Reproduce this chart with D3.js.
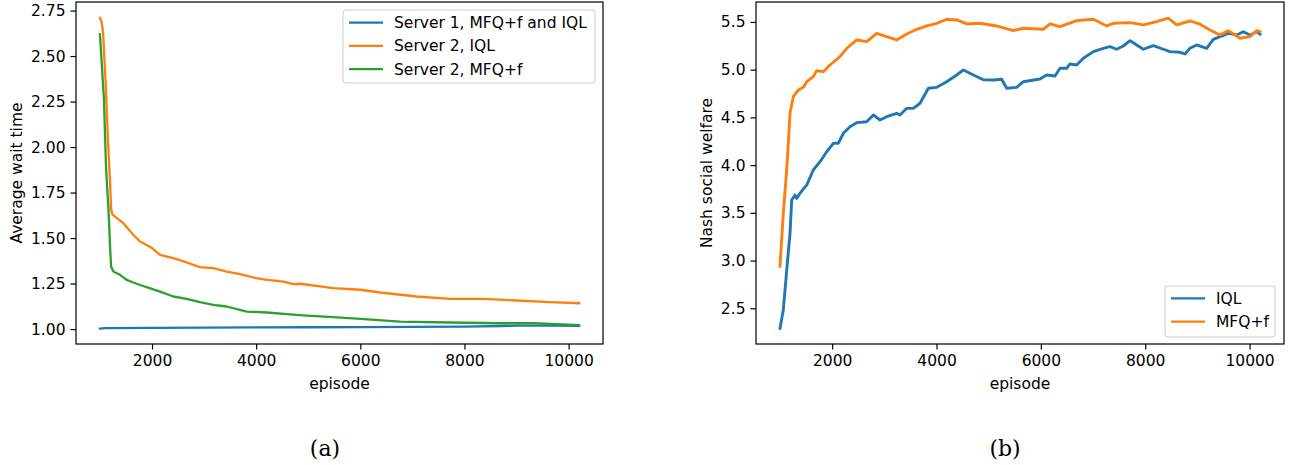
<!DOCTYPE html>
<html>
<head>
<meta charset="utf-8">
<title>wait time / nash welfare</title>
<script src="https://d3js.org/d3.v7.min.js"></script>
<style>
  body { margin: 0; background: #fff; }
  text { font-family: "DejaVu Sans", sans-serif; fill: #000; }
  .cap { font-family: "DejaVu Serif", "Liberation Serif", serif; }
</style>
</head>
<body>
<script>
// ---- data ----
// (a) average wait time
var waitS1Ep   = [1000, 1100, 2000, 3000, 4000, 5000, 6000, 7000, 8000, 8700, 9000, 9600, 10200];
var waitS1Val  = [1.003, 1.005, 1.007, 1.008, 1.009, 1.010, 1.011, 1.012, 1.014, 1.017, 1.019, 1.019, 1.018];

var waitIqlEp  = [1000, 1030, 1060, 1110, 1160, 1195, 1215, 1235, 1289, 1448, 1640, 1769, 2000, 2153, 2409, 2665, 2921, 3177, 3434, 3690, 4000, 4205, 4525, 4717, 4841, 5229, 5479, 6000, 6378, 7082, 7722, 8362, 9002, 9642, 10200];
var waitIqlVal = [2.71, 2.69, 2.63, 2.35, 2.00, 1.80, 1.66, 1.632, 1.618, 1.582, 1.518, 1.481, 1.445, 1.408, 1.390, 1.366, 1.340, 1.335, 1.316, 1.302, 1.280, 1.270, 1.261, 1.247, 1.249, 1.234, 1.225, 1.216, 1.201, 1.179, 1.166, 1.166, 1.157, 1.148, 1.142];

var waitMfqEp  = [1000, 1077, 1116, 1142, 1162, 1194, 1214, 1257, 1385, 1513, 1640, 1896, 2153, 2409, 2665, 2921, 3177, 3434, 3818, 4205, 4589, 4973, 5479, 6000, 6762, 7722, 8682, 9322, 10200];
var waitMfqVal = [2.62, 2.26, 1.893, 1.76, 1.673, 1.454, 1.344, 1.316, 1.298, 1.270, 1.256, 1.230, 1.206, 1.179, 1.166, 1.148, 1.133, 1.124, 1.096, 1.091, 1.082, 1.074, 1.066, 1.056, 1.041, 1.036, 1.032, 1.032, 1.022];

// (b) Nash social welfare
var nswIqlEp  = [1000, 1063, 1096, 1140, 1192, 1224, 1288, 1320, 1383, 1447, 1512, 1638, 1767, 1895, 2022, 2118, 2214, 2342, 2470, 2662, 2789, 2917, 3045, 3237, 3300, 3429, 3557, 3684, 3844, 4004, 4195, 4387, 4515, 4707, 4898, 5089, 5249, 5345, 5536, 5664, 5983, 6111, 6271, 6367, 6494, 6558, 6686, 6814, 7006, 7197, 7325, 7453, 7581, 7709, 7837, 7964, 8156, 8348, 8475, 8667, 8763, 8858, 8986, 9178, 9305, 9433, 9593, 9753, 9881, 10008, 10136, 10200];
var nswIqlVal = [2.29, 2.48, 2.69, 2.97, 3.285, 3.634, 3.687, 3.652, 3.704, 3.75, 3.791, 3.949, 4.036, 4.140, 4.229, 4.229, 4.333, 4.403, 4.445, 4.455, 4.525, 4.473, 4.507, 4.543, 4.525, 4.595, 4.595, 4.648, 4.805, 4.815, 4.874, 4.944, 4.997, 4.944, 4.895, 4.892, 4.899, 4.805, 4.815, 4.874, 4.902, 4.944, 4.934, 5.015, 5.015, 5.060, 5.049, 5.119, 5.189, 5.224, 5.241, 5.214, 5.248, 5.304, 5.259, 5.214, 5.252, 5.214, 5.189, 5.182, 5.165, 5.224, 5.259, 5.224, 5.318, 5.346, 5.381, 5.364, 5.398, 5.364, 5.398, 5.371];

var nswMfqEp  = [1000, 1063, 1128, 1160, 1192, 1255, 1351, 1447, 1512, 1638, 1703, 1830, 1958, 2150, 2278, 2470, 2662, 2853, 3045, 3237, 3429, 3620, 3812, 4004, 4195, 4387, 4579, 4833, 5153, 5472, 5664, 6047, 6175, 6367, 6686, 7006, 7261, 7389, 7709, 7964, 8220, 8443, 8603, 8858, 9050, 9242, 9433, 9593, 9817, 10008, 10136, 10200];
var nswMfqVal = [2.94, 3.495, 3.95, 4.23, 4.543, 4.717, 4.787, 4.815, 4.874, 4.927, 4.990, 4.979, 5.049, 5.136, 5.224, 5.311, 5.294, 5.381, 5.346, 5.311, 5.374, 5.423, 5.458, 5.486, 5.528, 5.521, 5.479, 5.486, 5.458, 5.409, 5.434, 5.423, 5.479, 5.451, 5.514, 5.528, 5.458, 5.486, 5.493, 5.469, 5.503, 5.539, 5.469, 5.510, 5.476, 5.416, 5.364, 5.409, 5.329, 5.346, 5.409, 5.398];

var xTicks = [2000, 4000, 6000, 8000, 10000];
var waitTicks = [1.00, 1.25, 1.50, 1.75, 2.00, 2.25, 2.50, 2.75];
var nswTicks = [2.5, 3.0, 3.5, 4.0, 4.5, 5.0, 5.5];

var C_BLUE = "#1f77b4", C_ORANGE = "#ff7f0e", C_GREEN = "#2ca02c";

function zip(xs, ys) { return xs.map(function(x, i){ return [x, ys[i]]; }); }

var svg = d3.select("body").append("svg")
    .attr("width", 1291).attr("height", 465);

function panel(opt) {
    var x = d3.scaleLinear().domain([540, 10660]).range([opt.left, opt.right]);
    var y = d3.scaleLinear().domain(opt.ydom).range([opt.bottom, opt.top]);
    var g = svg.append("g");

    var line = d3.line().x(function(d){ return x(d[0]); }).y(function(d){ return y(d[1]); });
    opt.series.forEach(function(s){
        g.append("path").datum(s.data)
            .attr("d", line)
            .attr("fill", "none")
            .attr("stroke", s.color)
            .attr("stroke-width", opt.sw)
            .attr("stroke-linejoin", "round")
            .attr("stroke-linecap", "square");
    });

    var xa = g.append("g").attr("transform", "translate(0," + opt.bottom + ")")
        .call(d3.axisBottom(x).tickValues(xTicks).tickFormat(d3.format("d")).tickSize(5.5).tickPadding(5).tickSizeOuter(0));
    var ya = g.append("g").attr("transform", "translate(" + opt.left + ",0)")
        .call(d3.axisLeft(y).tickValues(opt.yticks).tickFormat(d3.format(opt.yfmt)).tickSize(5.5).tickPadding(5).tickSizeOuter(0));
    [xa, ya].forEach(function(a){
        a.select(".domain").remove();
        a.selectAll("line").attr("stroke", "#000").attr("stroke-width", 1.2);
        a.selectAll("text").style("font-size", "15.5px").style("font-family", "DejaVu Sans");
    });

    g.append("rect")
        .attr("x", opt.left).attr("y", opt.top)
        .attr("width", opt.right - opt.left).attr("height", opt.bottom - opt.top)
        .attr("fill", "none").attr("stroke", "#000").attr("stroke-width", 1.2);

    g.append("text").attr("x", (opt.left + opt.right) / 2).attr("y", 388.5)
        .attr("text-anchor", "middle").style("font-size", "15.5px").text("episode");
    g.append("text")
        .attr("transform", "translate(" + opt.ylabX + "," + (opt.top + opt.bottom) / 2 + ") rotate(-90)")
        .attr("text-anchor", "middle").style("font-size", "15.5px").text(opt.ylabel);

    // legend
    var L = opt.legend;
    g.append("rect").attr("x", L.x).attr("y", L.y).attr("width", L.w).attr("height", L.h)
        .attr("rx", 3).attr("fill", "#fff").attr("fill-opacity", 0.8)
        .attr("stroke", "#ccc").attr("stroke-width", 1);
    opt.series.forEach(function(s, i){
        var yy = L.y + L.row0 + i * L.step;
        g.append("line").attr("x1", L.x + 6).attr("x2", L.x + 40).attr("y1", yy).attr("y2", yy)
            .attr("stroke", s.color).attr("stroke-width", 2.3);
        g.append("text").attr("x", L.x + 51).attr("y", yy).attr("dy", "0.36em")
            .style("font-size", "15.5px").text(s.name);
    });

    svg.append("text").attr("class", "cap")
        .attr("x", opt.capX).attr("y", 456).attr("text-anchor", "middle")
        .style("font-size", "22px").text(opt.cap);
}

panel({
    left: 76, right: 603, top: 2, bottom: 344,
    ydom: [0.918, 2.797], yticks: waitTicks, yfmt: ".2f",
    ylabel: "Average wait time", ylabX: 21.5, sw: 2.3,
    series: [
        { name: "Server 1, MFQ+f and IQL", color: C_BLUE, data: zip(waitS1Ep, waitS1Val) },
        { name: "Server 2, IQL", color: C_ORANGE, data: zip(waitIqlEp, waitIqlVal) },
        { name: "Server 2, MFQ+f", color: C_GREEN, data: zip(waitMfqEp, waitMfqVal) }
    ],
    legend: { x: 343, y: 10, w: 252, h: 73, row0: 12.7, step: 23.2 },
    cap: "(a)", capX: 325
});

panel({
    left: 756, right: 1284, top: 2, bottom: 344,
    ydom: [2.126, 5.709], yticks: nswTicks, yfmt: ".1f",
    ylabel: "Nash social welfare", ylabX: 711.5, sw: 2.9,
    series: [
        { name: "IQL", color: C_BLUE, data: zip(nswIqlEp, nswIqlVal) },
        { name: "MFQ+f", color: C_ORANGE, data: zip(nswMfqEp, nswMfqVal) }
    ],
    legend: { x: 1165, y: 286, w: 110, h: 51, row0: 12.3, step: 23.4 },
    cap: "(b)", capX: 1005
});
</script>
</body>
</html>
